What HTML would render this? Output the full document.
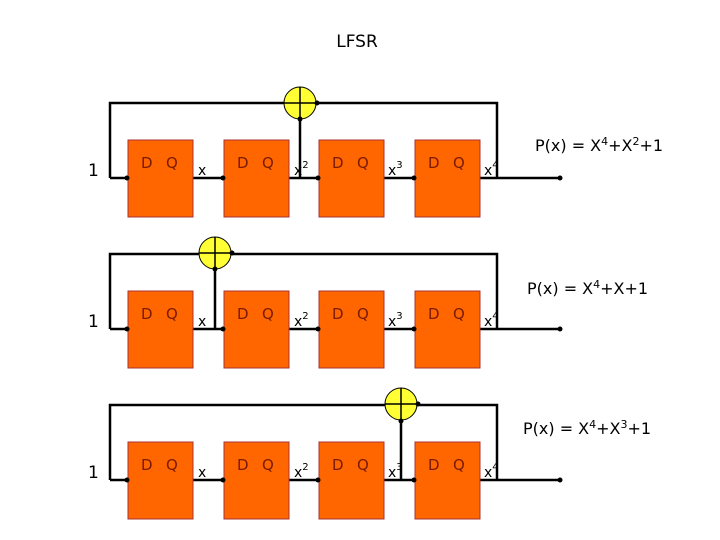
<!DOCTYPE html>
<html><head><meta charset="utf-8"><style>body{margin:0;background:#fff}svg{display:block}</style></head><body>
<svg width="720" height="540" viewBox="0 0 720 540" xmlns="http://www.w3.org/2000/svg" font-family="DejaVu Sans, Liberation Sans, sans-serif">
<rect width="720" height="540" fill="#fff"/>
<text x="357" y="47" font-size="17" text-anchor="middle">LFSR</text>
<defs>
<g id="row">
  <path d="M110 38 H560 M110 38 V-37 H497 V38" fill="none" stroke="#000" stroke-width="2.5"/>
  <g fill="#ff6600" stroke="#a33" stroke-width="1">
    <rect x="128" y="0" width="65" height="77"/>
    <rect x="224" y="0" width="65" height="77"/>
    <rect x="319" y="0" width="65" height="77"/>
    <rect x="415" y="0" width="65" height="77"/>
  </g>
  <g fill="#000">
    <circle cx="127" cy="38" r="2.5"/><circle cx="223" cy="38" r="2.5"/>
    <circle cx="318" cy="38" r="2.5"/><circle cx="414" cy="38" r="2.5"/>
    <circle cx="560" cy="38" r="2.5"/>
  </g>
  <g font-size="15" fill="#7a1a00">
    <text x="141" y="28">D</text><text x="166" y="28">Q</text>
    <text x="237" y="28">D</text><text x="262" y="28">Q</text>
    <text x="332" y="28">D</text><text x="357" y="28">Q</text>
    <text x="428" y="28">D</text><text x="453" y="28">Q</text>
  </g>
  <g font-size="14">
    <text x="88" y="36" font-size="17">1</text>
    <text x="198" y="35">x</text>
    <text x="294" y="35">x<tspan font-size="10" dy="-7">2</tspan></text>
    <text x="388" y="35">x<tspan font-size="10" dy="-7">3</tspan></text>
    <text x="484" y="35">x<tspan font-size="10" dy="-7">4</tspan></text>
  </g>
</g>
<g id="xor">
  <circle r="16" fill="#ffff33" stroke="#000" stroke-width="1"/>
  <path d="M-16 0 H16 M0 -16 V16" stroke="#000" stroke-width="1.5"/>
</g>
</defs>
<use href="#row" y="140"/>
<use href="#row" y="291"/>
<use href="#row" y="442"/>
<path d="M300 119 V178 M215 269 V329 M401 421 V480" stroke="#000" stroke-width="2.5"/>
<use href="#xor" x="300" y="103"/>
<use href="#xor" x="215" y="253"/>
<use href="#xor" x="401" y="404"/>
<g fill="#000">
  <circle cx="300" cy="119" r="2.5"/><circle cx="317" cy="103" r="2.5"/>
  <circle cx="215" cy="269" r="2.5"/><circle cx="232" cy="253" r="2.5"/>
  <circle cx="401" cy="421" r="2.5"/><circle cx="418" cy="404" r="2.5"/>
</g>
<g font-size="16">
  <text x="535" y="151">P(x) =  X<tspan font-size="11" dy="-6">4</tspan><tspan dy="6">+X</tspan><tspan font-size="11" dy="-6">2</tspan><tspan dy="6">+1</tspan></text>
  <text x="527" y="294">P(x) =  X<tspan font-size="11" dy="-6">4</tspan><tspan dy="6">+X+1</tspan></text>
  <text x="523" y="434">P(x) =  X<tspan font-size="11" dy="-6">4</tspan><tspan dy="6">+X</tspan><tspan font-size="11" dy="-6">3</tspan><tspan dy="6">+1</tspan></text>
</g>
</svg>
</body></html>
